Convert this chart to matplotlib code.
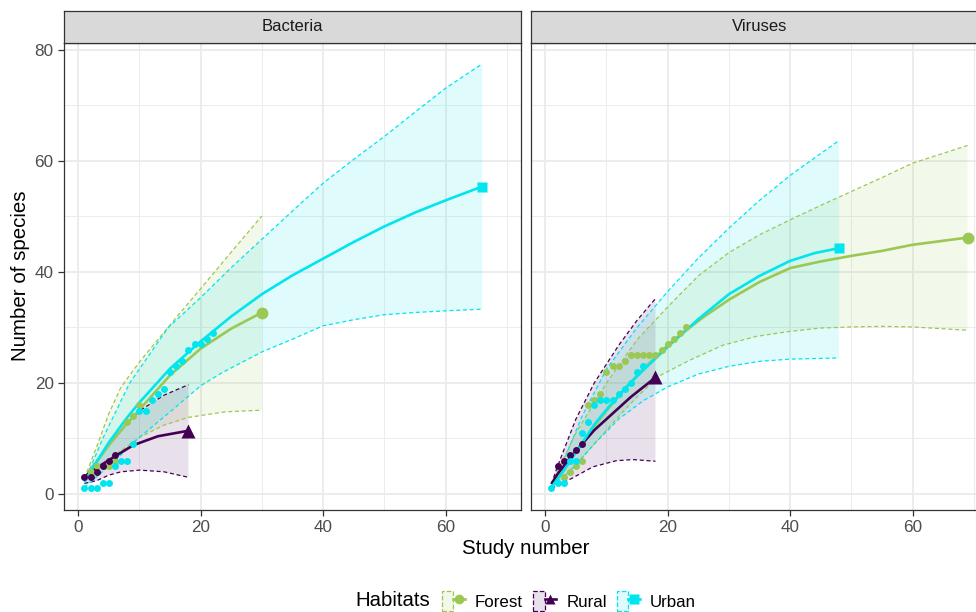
import matplotlib
matplotlib.use("Agg")
import matplotlib.pyplot as plt
from matplotlib.lines import Line2D
from matplotlib.patches import Patch
from matplotlib.legend_handler import HandlerTuple

plt.rcParams['font.family'] = ['Liberation Sans', 'DejaVu Sans']

# ---------------- data ----------------
panels = ["Bacteria", "Viruses"]
habitats = ["Forest", "Rural", "Urban"]
colors = {"Forest": "#9BC853", "Rural": "#440154", "Urban": "#00E5EE"}
markers = {"Forest": "o", "Rural": "^", "Urban": "s"}

# Bacteria - Forest
bac_forest_x = [1, 3, 5, 8, 10, 15, 20, 25, 30]
bac_forest_y = [2.8, 5.8, 8.8, 12.8, 15.2, 21.4, 26.2, 29.8, 32.7]
bac_forest_up_x = [1, 3, 5, 7, 10, 13, 16, 20, 25, 30]
bac_forest_up_y = [2.8, 8.5, 14.5, 19.3, 23.8, 27.8, 31.8, 37.0, 43.6, 50.1]
bac_forest_lo_x = [1, 3, 6, 10, 14, 18, 24, 30]
bac_forest_lo_y = [2.8, 4.3, 7.0, 10.2, 12.4, 13.8, 14.8, 15.1]
bac_forest_pts_x = [2, 3, 5, 6, 8, 9, 10]
bac_forest_pts_y = [4, 5, 5, 6, 13, 14, 16]

# Bacteria - Rural
bac_rural_x = [1, 2, 4, 6, 9, 13, 18]
bac_rural_y = [3.0, 4.0, 5.4, 6.8, 8.8, 10.4, 11.4]
bac_rural_up_x = [1, 3, 6, 10, 14, 18]
bac_rural_up_y = [3.0, 6.0, 10.3, 15.0, 17.8, 19.7]
bac_rural_lo_x = [1, 3, 5, 7, 10, 14, 18]
bac_rural_lo_y = [1.9, 2.4, 3.4, 4.0, 4.3, 4.0, 3.0]
bac_rural_pts_x = [1, 2, 3, 4, 5, 6]
bac_rural_pts_y = [3, 3, 4, 5, 6, 7]

# Bacteria - Urban
bac_urban_x = [1, 3, 5, 8, 10, 15, 20, 25, 30, 35, 40, 45, 50, 55, 60, 66]
bac_urban_y = [2.2, 5.8, 9.3, 13.8, 16.5, 22.6, 27.5, 32.0, 36.0, 39.4, 42.4, 45.4, 48.2, 50.7, 52.9, 55.4]
bac_urban_up_x = [1, 4, 8.4, 14.7, 20, 25, 30, 35, 40, 45, 50, 55, 60, 66]
bac_urban_up_y = [2.2, 10, 20, 30, 35.4, 40.8, 45.9, 51.0, 56.0, 60.3, 64.4, 68.8, 73.1, 77.5]
bac_urban_lo_x = [1, 5, 10, 15, 20, 23.4, 30, 35, 40, 45, 50, 55, 60, 66]
bac_urban_lo_y = [1.2, 5.0, 10.2, 14.8, 19.5, 21.8, 25.6, 27.9, 30.3, 31.4, 32.3, 32.7, 33.0, 33.3]
bac_urban_pts_x = [1, 2, 3, 4, 5, 6, 7, 8, 9, 10, 11, 12, 13, 14, 15, 16, 17, 18, 19, 20, 21, 22]
bac_urban_pts_y = [1, 1, 1, 2, 2, 5, 6, 6, 9, 15, 15, 17, 18, 19, 22, 23, 24, 26, 27, 27, 28, 29]

# Viruses - Forest
vir_forest_x = [1, 3, 5, 8, 10, 13, 16, 20, 23, 26, 30, 35, 40, 45, 50, 55, 60, 69]
vir_forest_y = [1.8, 4.6, 7.6, 12.2, 15.0, 19.0, 22.5, 26.8, 29.5, 32.0, 35.0, 38.2, 40.7, 41.9, 42.9, 43.8, 44.9, 46.2]
vir_forest_up_x = [1, 5, 10, 15, 20, 25, 30, 35, 40, 45, 50, 55, 60, 69]
vir_forest_up_y = [1.8, 11, 20, 27.8, 33.7, 39.3, 43.5, 46.7, 49.4, 52.0, 54.5, 57.0, 59.6, 62.8]
vir_forest_lo_x = [1, 4, 8, 12, 15, 18.5, 23.4, 29, 34.5, 40, 45, 50, 55, 60, 69]
vir_forest_lo_y = [1.5, 4, 9, 14, 17.5, 21.2, 24.0, 26.8, 28.4, 29.3, 29.9, 30.1, 30.2, 30.1, 29.5]
vir_forest_pts_x = [3, 4, 5, 6, 7, 8, 9, 10, 11, 12, 13, 14, 15, 16, 17, 18, 19, 20, 21, 22, 23]
vir_forest_pts_y = [3, 4, 5, 6, 16, 17, 18, 22, 23, 23, 24, 25, 25, 25, 25, 25, 26, 27, 28, 29, 30]

# Viruses - Rural
vir_rural_x = [1, 2, 4, 6, 8, 10, 14, 18]
vir_rural_y = [1.8, 3.6, 6.4, 9.0, 11.5, 13.5, 17.5, 21.0]
vir_rural_up_x = [1, 2, 5, 8, 12, 15, 18]
vir_rural_up_y = [1.8, 5, 13.5, 20, 26.8, 31.3, 35.2]
vir_rural_lo_x = [1, 2, 4.3, 7.8, 11.6, 14.3, 18]
vir_rural_lo_y = [1.0, 1.5, 2.8, 4.9, 6.0, 6.2, 5.9]
vir_rural_pts_x = [2, 3, 4, 5, 6]
vir_rural_pts_y = [5, 6, 7, 8, 9]

# Viruses - Urban
vir_urban_x = [1, 3, 5, 8, 10, 13, 16, 20, 25, 30, 35, 40, 44, 48]
vir_urban_y = [1.2, 4.2, 7.5, 12.5, 15.2, 19.0, 22.3, 26.5, 31.5, 36.0, 39.3, 42.0, 43.4, 44.3]
vir_urban_up_x = [1, 3, 6, 10, 15, 20, 25, 30, 35, 40, 48]
vir_urban_up_y = [1.2, 6, 14, 22.5, 30, 36.5, 42.5, 47.9, 52.9, 57.4, 63.7]
vir_urban_lo_x = [1, 3, 5, 8, 12, 16, 20, 25, 30, 35, 40, 48]
vir_urban_lo_y = [1.0, 3, 5.3, 9, 13.5, 16.8, 19.3, 21.6, 23.0, 23.9, 24.3, 24.5]
vir_urban_pts_x = [1, 2, 3, 4, 5, 6, 7, 8, 9, 10, 11, 12, 13, 14, 15, 16]
vir_urban_pts_y = [1, 2, 2, 6, 6, 11, 13, 16, 17, 17, 17, 18, 19, 20, 22, 23]

x_ticks = [0, 20, 40, 60]
y_ticks = [0, 20, 40, 60, 80]
x_label = "Study number"
y_label = "Number of species"
legend_title = "Habitats"

series = {
    "Bacteria": {
        "Forest": (bac_forest_x, bac_forest_y, bac_forest_up_x, bac_forest_up_y,
                   bac_forest_lo_x, bac_forest_lo_y, bac_forest_pts_x, bac_forest_pts_y),
        "Rural": (bac_rural_x, bac_rural_y, bac_rural_up_x, bac_rural_up_y,
                  bac_rural_lo_x, bac_rural_lo_y, bac_rural_pts_x, bac_rural_pts_y),
        "Urban": (bac_urban_x, bac_urban_y, bac_urban_up_x, bac_urban_up_y,
                  bac_urban_lo_x, bac_urban_lo_y, bac_urban_pts_x, bac_urban_pts_y),
    },
    "Viruses": {
        "Forest": (vir_forest_x, vir_forest_y, vir_forest_up_x, vir_forest_up_y,
                   vir_forest_lo_x, vir_forest_lo_y, vir_forest_pts_x, vir_forest_pts_y),
        "Rural": (vir_rural_x, vir_rural_y, vir_rural_up_x, vir_rural_up_y,
                  vir_rural_lo_x, vir_rural_lo_y, vir_rural_pts_x, vir_rural_pts_y),
        "Urban": (vir_urban_x, vir_urban_y, vir_urban_up_x, vir_urban_up_y,
                  vir_urban_lo_x, vir_urban_lo_y, vir_urban_pts_x, vir_urban_pts_y),
    },
}

# ---------------- figure ----------------
W, H = 976, 612
fig = plt.figure(figsize=(W / 100, H / 100), dpi=100)

def fx(px):
    return px / W

def fy(py):
    return 1 - py / H

panel_top, panel_bot = 42.6, 509.7
strip_top = 11.3
lefts = [63.6, 530.6]
pw = 457.8

FILL_ALPHA = 0.12
DASH = (0, (3.2, 2.2))

for i, pname in enumerate(panels):
    ax = fig.add_axes([fx(lefts[i]), fy(panel_bot), fx(pw), (panel_bot - panel_top) / H])
    ax.set_xlim(-2.4, 72.4)
    ax.set_ylim(-2.83, 81.33)
    ax.set_facecolor("white")
    ax.set_xticks(x_ticks)
    ax.set_xticks([10, 30, 50, 70], minor=True)
    ax.set_yticks(y_ticks)
    ax.set_yticks([10, 30, 50, 70], minor=True)
    ax.grid(which="major", color="#EBEBEB", lw=1.3)
    ax.grid(which="minor", color="#EBEBEB", lw=0.65)
    ax.set_axisbelow(True)
    for sp in ax.spines.values():
        sp.set_color("#333333")
        sp.set_linewidth(0.9)
    ax.tick_params(which="minor", length=0)
    ax.tick_params(which="major", length=4.1, width=0.9, color="#333333",
                   labelsize=12.3, labelcolor="#4D4D4D", pad=3)
    if i == 1:
        ax.tick_params(axis="y", which="major", left=False, labelleft=False)

    for hab in habitats:
        mx, my, ux, uy, lx, ly, px_, py_ = series[pname][hab]
        c = colors[hab]
        poly_x = list(ux) + list(lx)[::-1]
        poly_y = list(uy) + list(ly)[::-1]
        ax.fill(poly_x, poly_y, color=c, alpha=FILL_ALPHA, lw=0, zorder=2)
        ax.plot(ux, uy, color=c, lw=0.9, ls=DASH, zorder=3)
        ax.plot(lx, ly, color=c, lw=0.9, ls=DASH, zorder=3)
    for hab in habitats:
        mx, my, ux, uy, lx, ly, px_, py_ = series[pname][hab]
        c = colors[hab]
        ax.plot(mx, my, color=c, lw=1.9, zorder=4, solid_capstyle="butt",
                solid_joinstyle="round")
    for hab in habitats:
        mx, my, ux, uy, lx, ly, px_, py_ = series[pname][hab]
        c = colors[hab]
        ax.plot(px_, py_, ls="none", marker="o", ms=5, color=c, mec="none", zorder=5)
        ms_end = {"o": 8.5, "^": 9.5, "s": 7.5}[markers[hab]]
        ax.plot(mx[-1:], my[-1:], ls="none", marker=markers[hab], ms=ms_end,
                color=c, mec="none", zorder=6)

    # strip
    sax = fig.add_axes([fx(lefts[i]), fy(panel_top), fx(pw), (panel_top - strip_top) / H])
    sax.set_facecolor("#D9D9D9")
    sax.set_xticks([])
    sax.set_yticks([])
    for sp in sax.spines.values():
        sp.set_color("#333333")
        sp.set_linewidth(0.9)
    sax.text(0.5, 0.5, pname, ha="center", va="center", fontsize=12,
             color="#1A1A1A", transform=sax.transAxes)

# axis titles
fig.text(fx(526), fy(549), x_label, ha="center", va="center", fontsize=14.8, color="black")
fig.text(fx(21), fy(276), y_label, ha="center", va="center", rotation=90,
         fontsize=14.8, color="black")

# legend
handles = []
for hab in habitats:
    c = colors[hab]
    patch = Patch(facecolor=matplotlib.colors.to_rgba(c, FILL_ALPHA), edgecolor=c,
                  linestyle="--", linewidth=0.9)
    line = Line2D([0], [0], color=c, lw=1.9, marker=markers[hab], ms=7, mec="none")
    handles.append((patch, line))
fig.text(fx(355), fy(601), legend_title, ha="left", va="center", fontsize=14.7)
leg = fig.legend(handles, habitats, loc="center left", bbox_to_anchor=(fx(442), fy(601)),
                 ncol=3, frameon=False, fontsize=12.2, handlelength=1.35, handleheight=1.35,
                 handletextpad=0.6, columnspacing=0.6, borderpad=0, borderaxespad=0,
                 numpoints=1, handler_map={tuple: HandlerTuple(ndivide=None, pad=0)})

fig.savefig("out.png", dpi=100)
